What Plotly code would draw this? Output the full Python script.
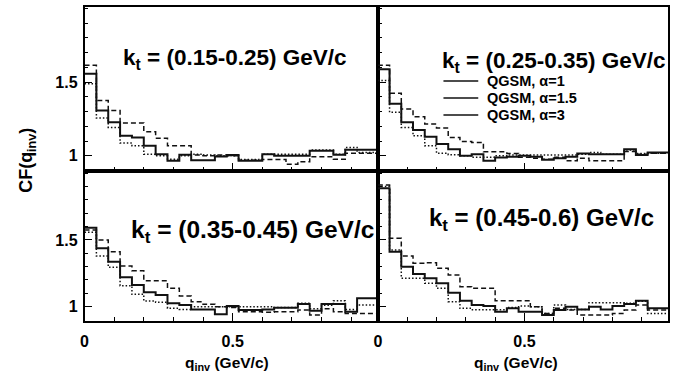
import plotly.graph_objects as go

# q_inv binning (GeV/c): 25 bins of width 0.04
bin_width = 0.04
n_bins = 25
q_edges = [round(i * bin_width, 2) for i in range(n_bins + 1)]

kt_labels = ["(0.15-0.25)", "(0.25-0.35)", "(0.35-0.45)", "(0.45-0.6)"]
series_names = ["QGSM, \u03b1=1", "QGSM, \u03b1=1.5", "QGSM, \u03b1=3"]

# CF(q_inv) per bin, kt = 0.15-0.25 GeV/c
cf_kt1_a1 = [1.557, 1.307, 1.227, 1.136, 1.125, 1.068, 1.011, 0.966, 1.007, 0.970, 0.970, 0.995, 1.005,
             0.966, 0.966, 1.010, 1.000, 1.000, 1.000, 1.034, 1.034, 1.007, 1.041, 1.041, 1.041]
cf_kt1_a15 = [1.614, 1.375, 1.307, 1.223, 1.223, 1.164, 1.120, 1.068, 1.068, 1.005, 1.000, 1.005, 1.000,
              0.970, 0.970, 0.975, 0.975, 0.943, 0.959, 0.993, 0.993, 0.977, 1.018, 1.018, 1.018]
cf_kt1_a3 = [1.489, 1.257, 1.193, 1.087, 1.068, 1.011, 1.000, 0.977, 1.000, 1.010, 1.005, 1.000, 1.000,
             0.975, 0.975, 1.010, 1.010, 1.010, 1.010, 1.039, 1.039, 1.010, 1.057, 1.023, 1.023]

# kt = 0.25-0.35 GeV/c
cf_kt2_a1 = [1.587, 1.353, 1.227, 1.175, 1.130, 1.080, 1.045, 1.000, 1.011, 0.966, 0.989, 0.993, 1.000,
             0.993, 0.973, 0.984, 0.993, 1.016, 1.011, 1.011, 1.011, 1.045, 1.005, 1.023, 1.023]
cf_kt2_a15 = [1.614, 1.425, 1.318, 1.266, 1.216, 1.189, 1.125, 1.098, 1.091, 1.027, 1.027, 1.016, 0.990,
              0.984, 0.977, 0.990, 0.966, 0.984, 0.966, 0.966, 0.966, 1.030, 1.011, 1.018, 1.018]
cf_kt2_a3 = [1.512, 1.296, 1.193, 1.136, 1.068, 1.018, 1.007, 1.000, 0.990, 0.990, 1.000, 1.005, 1.005,
             1.005, 1.005, 1.005, 1.005, 1.011, 1.023, 1.011, 1.011, 1.039, 1.016, 1.018, 1.018]

# kt = 0.35-0.45 GeV/c
cf_kt3_a1 = [1.592, 1.438, 1.337, 1.220, 1.163, 1.108, 1.088, 1.025, 1.013, 0.980, 0.980, 0.943, 1.005,
             0.975, 0.975, 0.980, 0.993, 0.993, 1.020, 0.970, 1.020, 1.020, 0.963, 1.063, 1.063]
cf_kt3_a15 = [1.575, 1.500, 1.412, 1.305, 1.270, 1.195, 1.195, 1.138, 1.080, 1.037, 1.018, 1.000, 0.995,
              0.963, 0.963, 0.958, 0.963, 0.963, 0.975, 0.938, 0.985, 0.963, 0.950, 0.950, 0.950]
cf_kt3_a3 = [1.557, 1.380, 1.295, 1.157, 1.093, 1.043, 1.033, 0.988, 0.980, 1.000, 1.000, 1.000, 1.000,
             1.000, 1.000, 1.000, 0.995, 0.995, 1.025, 0.985, 1.010, 1.045, 0.980, 1.013, 1.013]

# kt = 0.45-0.6 GeV/c
cf_kt4_a1 = [1.887, 1.412, 1.300, 1.245, 1.213, 1.175, 1.105, 1.045, 1.013, 1.005, 0.963, 0.988, 0.963,
             0.963, 0.938, 0.975, 1.000, 0.980, 1.000, 0.980, 1.005, 1.020, 1.045, 0.988, 0.988]
cf_kt4_a15 = [1.912, 1.512, 1.380, 1.325, 1.330, 1.288, 1.238, 1.150, 1.138, 1.138, 1.045, 1.045, 1.045,
              1.000, 0.950, 0.988, 0.975, 0.938, 0.938, 0.938, 0.950, 0.975, 1.013, 0.975, 0.975]
cf_kt4_a3 = [1.900, 1.425, 1.213, 1.213, 1.175, 1.138, 1.038, 0.988, 0.978, 0.978, 0.978, 0.995, 1.005,
             1.000, 0.950, 1.013, 0.980, 0.980, 1.030, 1.030, 1.030, 1.025, 1.040, 0.950, 0.950]

panels = [
    (cf_kt1_a1, cf_kt1_a15, cf_kt1_a3),
    (cf_kt2_a1, cf_kt2_a15, cf_kt2_a3),
    (cf_kt3_a1, cf_kt3_a15, cf_kt3_a3),
    (cf_kt4_a1, cf_kt4_a15, cf_kt4_a3),
]

W, H = 694, 379
FONT = "Liberation Sans, Arial, Helvetica, sans-serif"

# pixel frames of the 2x2 pad grid
col_px = [(81, 376), (376, 668)]
row_px = [(7, 171), (171, 321)]


def xdom(c):
    return [col_px[c][0] / W, col_px[c][1] / W]


def ydom(r):
    return [1 - row_px[r][1] / H, 1 - row_px[r][0] / H]


styles = [
    dict(color="#111111", width=2.0, dash="solid"),
    dict(color="#111111", width=1.5, dash="5px,3px"),
    dict(color="#111111", width=1.5, dash="1.5px,2px"),
]

fig = go.Figure()

# draw order: dotted, dashed, then solid on top
for p, series in enumerate(panels):
    ax = "" if p == 0 else str(p + 1)
    for s in (2, 1, 0):
        vals = list(series[s])
        fig.add_trace(go.Scatter(
            x=q_edges, y=vals + [vals[-1]],
            mode="lines", line=dict(shape="hv", **styles[s]),
            xaxis="x" + ax, yaxis="y" + ax,
            showlegend=False, hoverinfo="skip",
        ))

tick_font = dict(family=FONT, size=16, color="black", weight="bold")

layout = dict(
    width=W, height=H,
    margin=dict(l=0, r=0, t=0, b=0),
    paper_bgcolor="white", plot_bgcolor="white",
    showlegend=False,
)

for p in range(4):
    r, c = divmod(p, 2)
    key = "" if p == 0 else str(p + 1)
    layout["xaxis" + key] = dict(
        domain=xdom(c), anchor="y" + key, range=[0, 0.99],
        showline=True, linecolor="black", linewidth=1.6, mirror=True,
        ticks="inside", ticklen=8, tickwidth=1, tickcolor="black",
        tickmode="array", tickvals=[0, 0.5], ticktext=["0", "0.5"],
        minor=dict(tickmode="linear", tick0=0, dtick=0.1, ticks="inside", ticklen=4, tickcolor="black"),
        showticklabels=(r == 1), tickfont=tick_font, ticklabelstandoff=5,
        showgrid=False, zeroline=False, fixedrange=True,
    )
    yr = [0.897, 2.01] if r == 0 else [0.893, 2.016]
    layout["yaxis" + key] = dict(
        domain=ydom(r), anchor="x" + key, range=yr,
        showline=True, linecolor="black", linewidth=1.6, mirror=True,
        ticks="inside", ticklen=8, tickwidth=1, tickcolor="black",
        tickmode="array", tickvals=[1, 1.5], ticktext=["1", "1.5"],
        minor=dict(tickmode="linear", tick0=0, dtick=0.1, ticks="inside", ticklen=4, tickcolor="black"),
        showticklabels=(c == 0), tickfont=tick_font, ticklabelstandoff=2,
        showgrid=False, zeroline=False, fixedrange=True,
    )

fig.update_layout(**layout)

# kt labels inside each pad
title_pos = [(232, 59, 22.5), (553, 62, 22.5), (250, 231, 24.5), (541, 219, 24)]
for p, (cx, cy, fs) in enumerate(title_pos):
    fig.add_annotation(
        xref="paper", yref="paper", x=cx / W, y=1 - cy / H,
        xanchor="center", yanchor="middle", showarrow=False,
        text="k<sub>t</sub> = " + kt_labels[p] + " GeV/c",
        font=dict(family=FONT, size=fs, color="black", weight="bold"),
    )

# legend block in the upper-right pad: solid sample line + label per model
legend_rows = [81, 98, 115]
for name, yrow in zip(series_names, legend_rows):
    fig.add_shape(
        type="line", xref="paper", yref="paper",
        x0=442 / W, x1=477 / W, y0=1 - yrow / H, y1=1 - yrow / H,
        line=dict(color="#111111", width=1.5),
    )
    fig.add_annotation(
        xref="paper", yref="paper", x=484 / W, y=1 - yrow / H,
        xanchor="left", yanchor="middle", showarrow=False,
        text=name,
        font=dict(family=FONT, size=14.5, color="black", weight="bold"),
    )

# axis titles
fig.add_annotation(
    xref="paper", yref="paper", x=24 / W, y=1 - 160 / H,
    xanchor="center", yanchor="middle", showarrow=False, textangle=-90,
    text="CF(q<sub>inv</sub>)",
    font=dict(family=FONT, size=18, color="black", weight="bold"),
)
for cx in (224, 515):
    fig.add_annotation(
        xref="paper", yref="paper", x=cx / W, y=1 - 363 / H,
        xanchor="center", yanchor="middle", showarrow=False,
        text="q<sub>inv</sub> (GeV/c)",
        font=dict(family=FONT, size=15.5, color="black", weight="bold"),
    )

fig.write_html("out.html")
